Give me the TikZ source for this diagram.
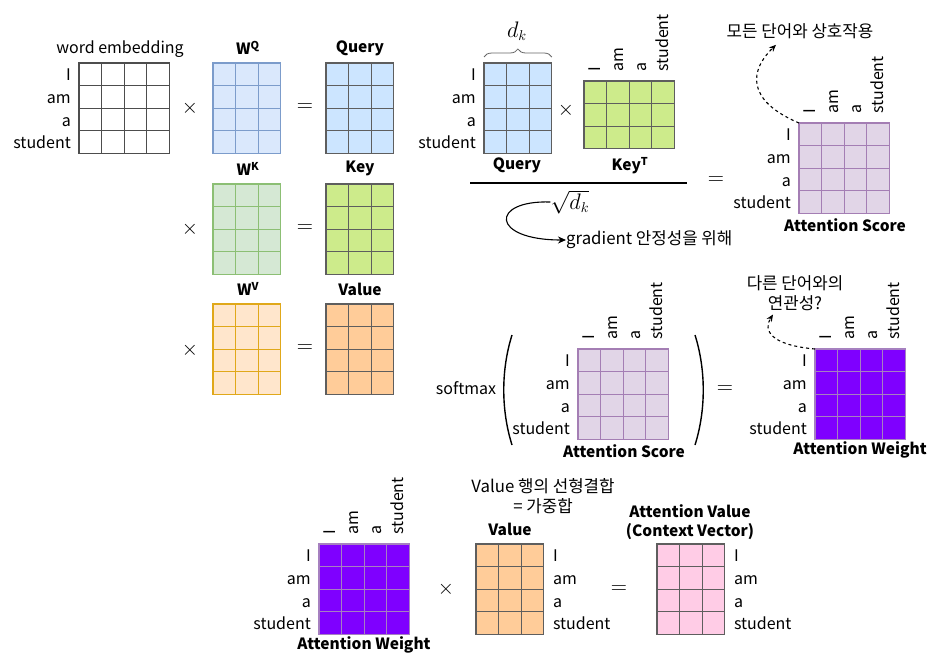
\documentclass[tikz,border=0pt]{standalone}
\usepackage{fontspec}
\setmainfont{Noto Sans CJK KR}
\usetikzlibrary{decorations.pathreplacing,arrows.meta,calc}
\definecolor{dks}{HTML}{5E5E5E}
\definecolor{embs}{HTML}{4D4D4D}
\definecolor{wqf}{HTML}{DAE8FC}\definecolor{wqs}{HTML}{7C9CCB}
\definecolor{qf}{HTML}{CCE5FF}
\definecolor{wkf}{HTML}{D5E8D4}\definecolor{wks}{HTML}{8CBF74}
\definecolor{kf}{HTML}{CDEB8B}
\definecolor{wvf}{HTML}{FFE6CC}\definecolor{wvs}{HTML}{E0A81A}
\definecolor{vf}{HTML}{FFCC99}
\definecolor{asf}{HTML}{E1D5E7}\definecolor{ass}{HTML}{A47EB4}
\definecolor{awf}{HTML}{7F00FF}\definecolor{aws}{HTML}{A680C0}
\definecolor{avf}{HTML}{FFCCE6}
\newcommand{\cellsz}{22.6pt}
\tikzset{
  every node/.style={font=\fontsize{16}{19}\selectfont},
  lab/.style={inner sep=0pt},
  note/.style={inner sep=0pt, align=center, font=\fontsize{16.8}{19.5}\selectfont},
  ttl/.style={inner sep=0pt, font=\fontsize{15.5}{19}\selectfont\bfseries},
  matbox/.style={anchor=north west, inner sep=0pt, outer sep=0pt, line width=1.3pt},
  gridline/.style={line width=1.3pt},
  opsym/.style={inner sep=0pt},
  dasharrow/.style={dashed, line width=1.1pt, -{Stealth[length=7pt,width=6pt]}},
}
\newcommand{\opx}{\scalebox{1.2}{$\times$}}
\newcommand{\ope}{\scalebox{1.3}{$=$}}
\newcommand{\gridmat}[7]{%
  \node[matbox, fill=#6, draw=#7, minimum width=#4*\cellsz, minimum height=#5*\cellsz] (#1) at (#2,#3) {};
  \foreach \k in {1,...,#4} {\ifnum\k<#4\relax \draw[gridline,#7] ([xshift=\k*\cellsz]#1.north west) -- ([xshift=\k*\cellsz]#1.south west);\fi}
  \foreach \k in {1,...,#5} {\ifnum\k<#5\relax \draw[gridline,#7] ([yshift=-\k*\cellsz]#1.north west) -- ([yshift=-\k*\cellsz]#1.north east);\fi}
}
\newcommand{\leftlabs}[1]{%
  \foreach \w [count=\k] in {I,am,a,student} {\node[lab, anchor=base east] (#1-r\k) at ([xshift=-8pt,yshift={-((\k-0.5)*\cellsz+6.5pt)}]#1.north west) {\w};}
}
\newcommand{\rightlabs}[1]{%
  \foreach \w [count=\k] in {I,am,a,student} {\node[lab, anchor=base west] (#1-r\k) at ([xshift=9pt,yshift={-((\k-0.5)*\cellsz+6.5pt)}]#1.north east) {\w};}
}
\newcommand{\toplabs}[1]{%
  \foreach \w [count=\k] in {I,am,a,student} {\node[lab, rotate=90, anchor=base west] (#1-c\k) at ([xshift={(\k-0.5)*\cellsz+5.5pt},yshift=9pt]#1.north west) {\w};}
}
\begin{document}
\begin{tikzpicture}[x=1pt,y=-1pt]
\useasboundingbox (0,0) rectangle (936,661);
\fill[white] (0,0) rectangle (936,661);

% ---------- left block: Q, K, V ----------
\gridmat{emb}{79}{63}{4}{4}{white}{embs}
\leftlabs{emb}
\node[lab] (embt) at (120,49) {word embedding};

\gridmat{wq}{213}{63}{3}{4}{wqf}{wqs}
\node[ttl] (wqt) at (248,48) {W\textsuperscript{Q}};
\gridmat{q1}{326}{63}{3}{4}{qf}{dks}
\node[ttl] (q1t) at (360,48) {Query};
\node[opsym] (m1) at (190,108) {\opx};
\node[opsym] (e1) at (305,108) {\ope};

\gridmat{wk}{213}{184}{3}{4}{wkf}{wks}
\node[ttl] (wkt) at (248,169) {W\textsuperscript{K}};
\gridmat{k1}{326}{184}{3}{4}{kf}{dks}
\node[ttl] (k1t) at (360,168) {Key};
\node[opsym] (m2) at (190,229) {\opx};
\node[opsym] (e2) at (305,229) {\ope};

\gridmat{wv}{213}{304}{3}{4}{wvf}{wvs}
\node[ttl] (wvt) at (248,289) {W\textsuperscript{V}};
\gridmat{v1}{326}{304}{3}{4}{vf}{dks}
\node[ttl] (v1t) at (360,289) {Value};
\node[opsym] (m3) at (190,350) {\opx};
\node[opsym] (e3) at (305,349) {\ope};

% ---------- top right: scaled dot product ----------
\gridmat{q2}{484}{63}{3}{4}{qf}{dks}
\leftlabs{q2}
\node[ttl] (q2t) at (517,165) {Query};
\draw[decorate, decoration={brace, amplitude=8pt}, gray!80!black, line width=0.8pt]
  ([yshift=6pt]q2.north west) -- ([yshift=6pt]q2.north east);
\node[lab] (dk) at (517,31) {\scalebox{1.3}{$d_k$}};
\node[opsym] (m4) at (566,110) {\opx};
\gridmat{kt}{584}{81}{4}{3}{kf}{dks}
\toplabs{kt}
\node[ttl] (ktt) at (630,166) {Key\textsuperscript{T}};
\coordinate (fl) at (470,183);
\coordinate (fr) at (687,183);
\draw[line width=1.2pt] (fl) -- (fr);
\node[lab] (sq) at (570,202) {\scalebox{1.3}{$\sqrt{d_k}$}};
\node[note, anchor=west] (grad) at (566,240) {gradient 안정성을 위해};
\draw[line width=1.1pt, -{Stealth[length=8pt,width=7pt]}]
  (sq.west) .. controls (490,200) and (490,240) .. (grad.west);
\node[opsym] (e4) at (716,181) {\ope};

\gridmat{as1}{799}{123}{4}{4}{asf}{ass}
\leftlabs{as1}
\toplabs{as1}
\node[ttl] (as1t) at (845,225) {Attention Score};
\node[note] (note1) at (800,31) {모든 단어와 상호작용};
\draw[dasharrow] (as1.north west) .. controls (745,100) and (750,70) .. ([xshift=-24pt,yshift=-6pt]note1.south);

% ---------- middle: softmax ----------
\node[lab] (smx) at (466,388) {softmax};
\coordinate (lpt) at (512,335); \coordinate (lpb) at (512,445);
\coordinate (rpt) at (695,335); \coordinate (rpb) at (695,445);
\draw[line width=1.4pt] (lpt) .. controls (501,370) and (501,410) .. (lpb);
\draw[line width=1.4pt] (rpt) .. controls (706,370) and (706,410) .. (rpb);
\gridmat{as2}{578}{349}{4}{4}{asf}{ass}
\leftlabs{as2}
\toplabs{as2}
\node[ttl] (as2t) at (624,451) {Attention Score};
\node[opsym] (e5) at (725,390) {\ope};

\gridmat{aw1}{815}{349}{4}{4}{awf}{aws}
\leftlabs{aw1}
\toplabs{aw1}
\node[ttl] (aw1t) at (860,450) {Attention Weight};
\node[note] (note2) at (795,293) {다른 단어와의\\연관성?};
\draw[dasharrow] (aw1.north west) .. controls (770,345) and (763,330) .. ([xshift=-22pt,yshift=-4pt]note2.south);

% ---------- bottom: weighted sum ----------
\gridmat{aw2}{319}{544}{4}{4}{awf}{aws}
\leftlabs{aw2}
\toplabs{aw2}
\node[ttl] (aw2t) at (364,645) {Attention Weight};
\node[opsym] (m5) at (446,589) {\opx};

\gridmat{v2}{476}{544}{3}{4}{vf}{dks}
\rightlabs{v2}
\node[ttl] (v2t) at (510,529) {Value};
\node[note] (note3) at (543,496) {Value 행의 선형결합\\= 가중합};
\node[opsym] (e6) at (619,589) {\ope};

\gridmat{av}{657}{544}{3}{4}{avf}{dks}
\rightlabs{av}
\node[ttl, align=center] (avt) at (690,522) {Attention Value\\(Context Vector)};
\end{tikzpicture}
\end{document}
